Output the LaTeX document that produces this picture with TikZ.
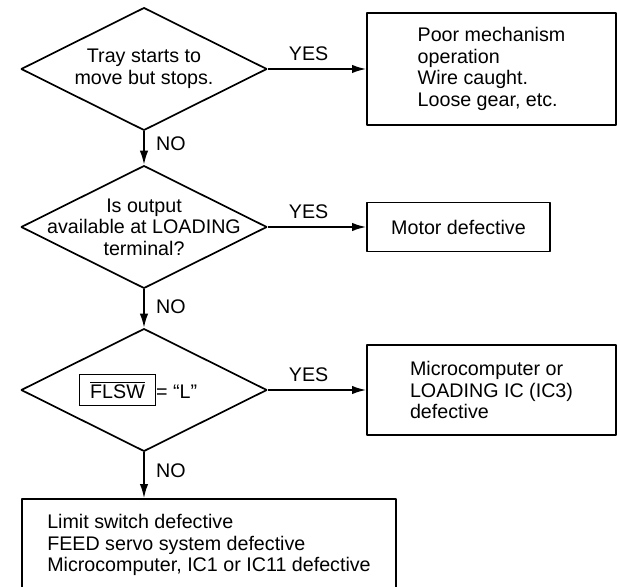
\documentclass[tikz,border=0pt]{standalone}
\usepackage{fontspec}
\setmainfont{Liberation Sans}
\usetikzlibrary{shapes.geometric,arrows.meta}
\setlength{\fboxsep}{5pt}
\setlength{\fboxrule}{0.7pt}
\tikzset{
  decision/.style={draw,diamond,inner sep=0pt,minimum width=6.15cm,minimum height=3.07cm,line width=1.2pt},
  result/.style={draw,rectangle,align=left,line width=1.3pt},
  answer/.style={inner sep=0pt},
}
\begin{document}
\begin{tikzpicture}[>={Latex[length=10pt,width=6pt]},line join=bevel,font=\fontsize{14}{15.3}\selectfont]
\useasboundingbox (0,0) rectangle (15.425,-14.675);
%%
  \node (test_1) at (3.6,-1.725) [decision] {};
  \node (test_1_text) at (test_1) [align=center] {Tray starts to\\move but stops.};
  \node (test_2) at (3.6,-5.675) [decision] {};
  \node (test_2_text) at (test_2) [align=center] {Is output\\available at LOADING\\terminal?};
  \node (test_3) at (3.6,-9.75) [decision] {};
  \node (test_3_text) at ([xshift=-0.15cm]test_3) {\fbox{\,$\overline{\mbox{FLSW}}$\,}= “L”};

  \node (result_1) at (12.2875,-1.725) [result,minimum width=6.225cm,minimum height=2.8cm] {Poor mechanism\\operation\\Wire caught.\\Loose gear, etc.};
  \node (result_2) at (11.4625,-5.675) [result,minimum width=4.575cm,minimum height=1.225cm] {Motor defective};
  \node (result_3) at (12.2875,-9.75) [result,minimum width=6.225cm,minimum height=2.25cm] {Microcomputer or\\LOADING IC (IC3)\\defective};
  \node (result_4) at (5.225,-13.625) [result,minimum width=9.35cm,minimum height=2.3cm] {Limit switch defective\\FEED servo system defective\\Microcomputer, IC1 or IC11 defective};

  \draw [black,->,line width=1.2pt] (test_1) edge node (yes_1) [answer,above=5pt,pos=0.415] {YES} (result_1);
  \draw [black,->,line width=1.2pt] (test_2) edge node (yes_2) [answer,above=5pt,pos=0.415] {YES} (result_2);
  \draw [black,->,line width=1.2pt] (test_3) edge node (yes_3) [answer,above=5pt,pos=0.415] {YES} (result_3);

  \draw [black,->,line width=1.2pt] (test_1) edge node (no_1) [answer,right=8pt,pos=0.38] {NO} (test_2);
  \draw [black,->,line width=1.2pt] (test_2) edge node (no_2) [answer,right=8pt,pos=0.45] {NO} (test_3);
  \draw [black,->,line width=1.2pt] (test_3) edge node (no_3) [answer,right=8pt,pos=0.4] {NO} (test_3 |- result_4.north);

\end{tikzpicture}
\end{document}
